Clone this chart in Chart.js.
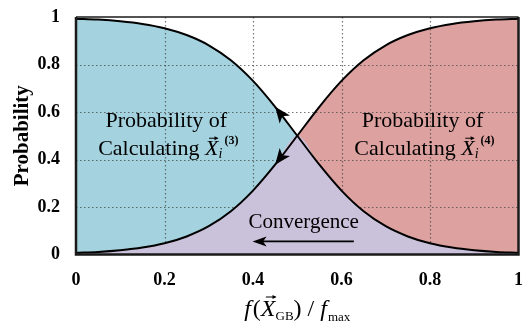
<!DOCTYPE html>
<html>
<head>
<meta charset="utf-8">
<script src="https://cdn.jsdelivr.net/npm/chart.js@4/dist/chart.umd.min.js"></script>
<style>
  html, body { margin: 0; padding: 0; background: #ffffff; }
  #wrap { width: 532px; height: 331px; position: relative; }
</style>
</head>
<body>
<div id="wrap"><canvas id="c" width="532" height="331"></canvas></div>
<script>
// Normalised fitness f(X_GB)/f_max
const xValues = [0, 0.05, 0.1, 0.15, 0.2, 0.25, 0.3, 0.35, 0.4, 0.45, 0.5,
                 0.55, 0.6, 0.65, 0.7, 0.75, 0.8, 0.85, 0.9, 0.95, 1];
// Probability of calculating X_i^(3) (falls with fitness)
const probUpdate3 = [0.993, 0.989, 0.982, 0.971, 0.953, 0.924, 0.881, 0.818, 0.731, 0.622, 0.5,
                     0.378, 0.269, 0.182, 0.119, 0.076, 0.047, 0.029, 0.018, 0.011, 0.007];
// Probability of calculating X_i^(4) (rises with fitness)
const probUpdate4 = [0.007, 0.011, 0.018, 0.029, 0.047, 0.076, 0.119, 0.182, 0.269, 0.378, 0.5,
                     0.622, 0.731, 0.818, 0.881, 0.924, 0.953, 0.971, 0.982, 0.989, 0.993];
// Overlap of both probabilities
const probOverlap = probUpdate3.map((v, i) => Math.min(v, probUpdate4[i]));

const xTicks = [0, 0.2, 0.4, 0.6, 0.8, 1];
const yTicks = [0, 0.2, 0.4, 0.6, 0.8, 1];

const SERIF = '"Liberation Serif", "Times New Roman", serif';
const BLUE = '#a4d3df';
const RED = '#dda1a0';
const PURPLE = '#cac1db';

const pts = arr => arr.map((v, i) => ({ x: xValues[i], y: v }));

function filled(data, color, order) {
  return { data: pts(data), backgroundColor: color, borderWidth: 0, borderColor: 'rgba(0,0,0,0)',
           fill: 'origin', pointRadius: 0, cubicInterpolationMode: 'monotone', order: order };
}
function curve(data, order) {
  return { data: pts(data), borderColor: '#000', borderWidth: 2, fill: false,
           pointRadius: 0, cubicInterpolationMode: 'monotone', order: order };
}

// Draw a run of text pieces (fonts / offsets / vector arrows) centred on cx
function richText(ctx, parts, cx, baseline) {
  let total = 0;
  parts.forEach(p => { ctx.font = p.font; p.w = ctx.measureText(p.text).width + (p.gap || 0); total += p.w; });
  let x = cx - total / 2;
  ctx.textAlign = 'left';
  ctx.textBaseline = 'alphabetic';
  parts.forEach(p => {
    ctx.font = p.font;
    ctx.fillStyle = '#000';
    ctx.fillText(p.text, x, baseline + (p.dy || 0));
    if (p.vec) {
      const y = baseline - p.vec.h;
      const x0 = x + p.vec.l, x1 = x + p.w - p.vec.r;
      ctx.strokeStyle = '#000';
      ctx.lineWidth = 1;
      ctx.beginPath(); ctx.moveTo(x0, y); ctx.lineTo(x1, y); ctx.stroke();
      ctx.beginPath(); ctx.moveTo(x1 + 1, y); ctx.lineTo(x1 - 3, y - 2); ctx.lineTo(x1 - 3, y + 2); ctx.closePath(); ctx.fill();
    }
    x += p.w;
  });
}

function arrowHead(ctx, tx, ty, dx, dy, len, half) {
  const m = Math.hypot(dx, dy); const ux = dx / m, uy = dy / m;
  const bx = tx - ux * len, by = ty - uy * len;
  ctx.beginPath();
  ctx.moveTo(tx, ty);
  ctx.lineTo(bx - uy * half, by + ux * half);
  ctx.lineTo(tx - ux * len * 0.75, ty - uy * len * 0.75);
  ctx.lineTo(bx + uy * half, by - ux * half);
  ctx.closePath();
  ctx.fill();
}

const decorations = {
  id: 'decorations',
  afterDatasetDraw(chart, args) {
    // dotted grid sits above the two single-probability areas, below the overlap
    if (args.index !== 1) return;
    const { ctx, chartArea: a, scales: { x, y } } = chart;
    ctx.save();
    ctx.setLineDash([1.5, 2.5]);
    ctx.lineWidth = 1.2;
    ctx.strokeStyle = 'rgba(60,60,60,0.7)';
    xTicks.slice(1, -1).forEach(v => {
      const px = Math.round(x.getPixelForValue(v)) + 0.5;
      ctx.beginPath(); ctx.moveTo(px, a.top); ctx.lineTo(px, a.bottom); ctx.stroke();
    });
    yTicks.slice(1, -1).forEach(v => {
      const py = Math.round(y.getPixelForValue(v)) + 0.5;
      ctx.beginPath(); ctx.moveTo(a.left, py); ctx.lineTo(a.right, py); ctx.stroke();
    });
    ctx.restore();
  },
  afterDraw(chart) {
    const { ctx, chartArea: a, scales: { x, y } } = chart;
    ctx.save();
    // plot frame
    ctx.strokeStyle = '#1a1a1a';
    ctx.lineWidth = 1.5;
    ctx.beginPath(); ctx.moveTo(a.left, a.top); ctx.lineTo(a.right, a.top); ctx.stroke();
    ctx.lineWidth = 2.5;
    ctx.beginPath();
    ctx.moveTo(a.left, a.top); ctx.lineTo(a.left, a.bottom); ctx.lineTo(a.right, a.bottom); ctx.lineTo(a.right, a.top);
    ctx.stroke();

    // direction arrows on the curves near the crossing
    ctx.fillStyle = '#000';
    const i = 9;
    const tipA = [x.getPixelForValue(xValues[i]), y.getPixelForValue(probUpdate3[i])];
    const prevA = [x.getPixelForValue(xValues[i + 1]), y.getPixelForValue(probUpdate3[i + 1])];
    arrowHead(ctx, tipA[0], tipA[1], tipA[0] - prevA[0], tipA[1] - prevA[1], 16, 6.5);
    const tipB = [x.getPixelForValue(xValues[i]), y.getPixelForValue(probUpdate4[i])];
    const prevB = [x.getPixelForValue(xValues[i + 1]), y.getPixelForValue(probUpdate4[i + 1])];
    arrowHead(ctx, tipB[0], tipB[1], tipB[0] - prevB[0], tipB[1] - prevB[1], 16, 6.5);

    // region labels
    const big = '22px ' + SERIF;
    const it = 'italic 22px ' + SERIF;
    const sub = 'italic 14px ' + SERIF;
    const sup = 'bold 12px ' + SERIF;
    [[0.204, '(3)'], [0.783, '(4)']].forEach(([cx, tag]) => {
      const px = x.getPixelForValue(cx);
      richText(ctx, [{ text: 'Probability of', font: big }], px, y.getPixelForValue(0.537));
      richText(ctx, [
        { text: 'Calculating ', font: big },
        { text: 'X', font: it, vec: { h: 17, l: 4, r: 1 } },
        { text: 'i', font: sub, dy: 3, gap: 2 },
        { text: tag, font: sup, dy: -11 }
      ], px + 2, y.getPixelForValue(0.418));
    });

    // convergence note with leftward arrow
    ctx.font = '21px ' + SERIF;
    ctx.textAlign = 'center';
    ctx.textBaseline = 'alphabetic';
    ctx.fillStyle = '#000';
    ctx.fillText('Convergence', x.getPixelForValue(0.5145), y.getPixelForValue(0.112));
    const ay = y.getPixelForValue(0.055);
    const ax0 = x.getPixelForValue(0.628), ax1 = x.getPixelForValue(0.399);
    ctx.strokeStyle = '#000';
    ctx.lineWidth = 1.8;
    ctx.beginPath(); ctx.moveTo(ax0, ay); ctx.lineTo(ax1 + 8, ay); ctx.stroke();
    arrowHead(ctx, ax1, ay, -1, 0, 14, 5);

    // axis titles
    ctx.save();
    ctx.translate(23, (a.top + a.bottom) / 2);
    ctx.rotate(-Math.PI / 2);
    ctx.font = 'bold 21px ' + SERIF;
    ctx.textAlign = 'center';
    ctx.textBaseline = 'middle';
    ctx.fillText('Probability', 0, 0);
    ctx.restore();

    const main = 'italic 24px ' + SERIF;
    const up = '24px ' + SERIF;
    const small = '13px ' + SERIF;
    richText(ctx, [
      { text: 'f', font: main, gap: 2 },
      { text: '(', font: up },
      { text: 'X', font: main, vec: { h: 19, l: 5, r: 0 } },
      { text: 'GB', font: small, dy: 4 },
      { text: ')', font: up },
      { text: ' / ', font: up },
      { text: 'f', font: main, gap: 1 },
      { text: 'max', font: small, dy: 5 }
    ], (a.left + a.right) / 2, 316);
    ctx.restore();
  }
};

new Chart(document.getElementById('c'), {
  type: 'line',
  data: {
    datasets: [
      curve(probUpdate3, 1),            // 0
      filled(probUpdate4, RED, 4),      // 1
      filled(probUpdate3, BLUE, 5),     // 2
      filled(probOverlap, PURPLE, 3),   // 3
      curve(probUpdate4, 2)             // 4
    ]
  },
  options: {
    responsive: false,
    animation: false,
    events: [],
    layout: { padding: { top: 9.5, right: 12, left: 0, bottom: 0 } },
    plugins: { legend: { display: false }, tooltip: { enabled: false } },
    scales: {
      x: {
        type: 'linear', min: 0, max: 1,
        afterBuildTicks: s => { s.ticks = xTicks.map(v => ({ value: v })); },
        afterFit: s => { s.height = 76.5; },
        grid: { display: false }, border: { display: false },
        ticks: { color: '#000', padding: 9, font: { family: SERIF, size: 18, weight: 'bold', lineHeight: 1 },
                 callback: v => String(v), maxRotation: 0 }
      },
      y: {
        type: 'linear', min: 0, max: 1,
        afterBuildTicks: s => { s.ticks = yTicks.map(v => ({ value: v })); },
        afterFit: s => { s.width = 76; },
        grid: { display: false }, border: { display: false },
        ticks: { color: '#000', padding: 8, font: { family: SERIF, size: 18, weight: 'bold', lineHeight: 1 },
                 callback: v => String(v) }
      }
    }
  },
  plugins: [decorations]
});
</script>
</body>
</html>
